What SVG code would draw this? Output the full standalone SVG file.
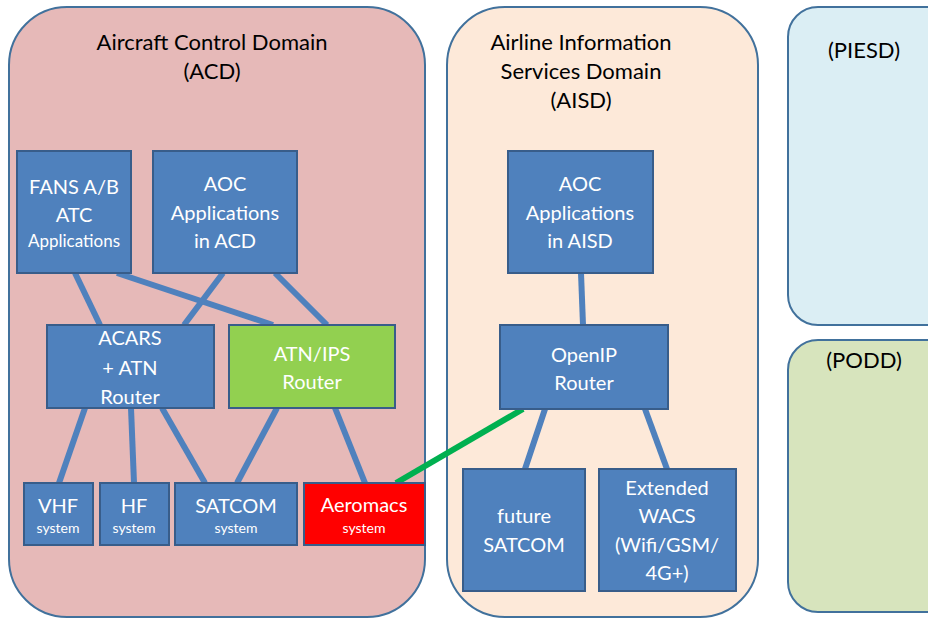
<svg xmlns="http://www.w3.org/2000/svg" width="928" height="619" viewBox="0 0 928 619">
<style>
.dom{stroke:#41719C;stroke-width:2}
.node{fill:#4F81BD;stroke:#385D8A;stroke-width:2}
.t{font-family:Lato,"Liberation Sans",sans-serif;text-anchor:middle}
.title{font-size:22px;fill:#000}
.w{fill:#fff;font-size:20px}
.s{fill:#fff;font-size:17px}
.xs{fill:#fff;font-size:14px}
.c{stroke:#4F81BD;stroke-width:6;fill:none}
.g{stroke:#00B050;stroke-width:6;fill:none}
</style>
<rect width="928" height="619" fill="#fff"/>
<g id="acd">
<rect class="dom" x="9" y="7" width="416" height="610" rx="58" fill="#E6B9B8"/>
<text class="t title" x="212" y="50">Aircraft Control Domain</text>
<text class="t title" x="212" y="79">(ACD)</text>
</g>
<g id="aisd">
<rect class="dom" x="447" y="7" width="311" height="610" rx="58" fill="#FDE9D9"/>
<text class="t title" x="581" y="50">Airline Information</text>
<text class="t title" x="581" y="79">Services Domain</text>
<text class="t title" x="581" y="108">(AISD)</text>
</g>
<g id="piesd">
<rect class="dom" x="788" y="7" width="170" height="318" rx="30" fill="#DBEEF4"/>
<text class="t title" x="864" y="58">(PIESD)</text>
</g>
<g id="podd">
<rect class="dom" x="788" y="340" width="170" height="272" rx="30" fill="#D7E4BD"/>
<text class="t title" x="864" y="368">(PODD)</text>
</g>
<g id="connectors">
<line class="c" x1="75" y1="273" x2="100" y2="325"/>
<line class="c" x1="117" y1="273" x2="273" y2="325"/>
<line class="c" x1="223" y1="273" x2="184" y2="325"/>
<line class="c" x1="275" y1="273" x2="327" y2="325"/>
<line class="c" x1="85" y1="408" x2="59" y2="483"/>
<line class="c" x1="131" y1="408" x2="134" y2="483"/>
<line class="c" x1="162" y1="408" x2="205" y2="483"/>
<line class="c" x1="277" y1="408" x2="237" y2="483"/>
<line class="c" x1="335" y1="408" x2="365" y2="483"/>
<line class="c" x1="581" y1="273" x2="583" y2="325"/>
<line class="c" x1="545" y1="409" x2="525" y2="469"/>
<line class="c" x1="645" y1="409" x2="667" y2="469"/>
<line class="g" x1="396" y1="483" x2="523" y2="409"/>
</g>
<g id="fans">
<rect class="node" x="17" y="151" width="114" height="122"/>
<text class="t w" x="74" y="194">FANS A/B</text>
<text class="t w" x="74" y="222">ATC</text>
<text class="t s" x="74" y="247">Applications</text>
</g>
<g id="aoc-acd">
<rect class="node" x="153" y="151" width="144" height="122"/>
<text class="t w" x="225" y="191">AOC</text>
<text class="t w" x="225" y="220">Applications</text>
<text class="t w" x="225" y="248">in ACD</text>
</g>
<g id="acars">
<rect class="node" x="47" y="325" width="167" height="83"/>
<text class="t w" x="130" y="345">ACARS</text>
<text class="t w" x="130" y="375">+ ATN</text>
<text class="t w" x="130" y="404">Router</text>
</g>
<g id="atnips">
<rect class="node" x="229" y="325" width="166" height="83" style="fill:#92D050"/>
<text class="t w" x="312" y="361">ATN/IPS</text>
<text class="t w" x="312" y="389">Router</text>
</g>
<g id="vhf">
<rect class="node" x="24" y="483" width="69" height="62"/>
<text class="t w" x="58" y="513">VHF</text>
<text class="t xs" x="58" y="533">system</text>
</g>
<g id="hf">
<rect class="node" x="100" y="483" width="69" height="62"/>
<text class="t w" x="134" y="513">HF</text>
<text class="t xs" x="134" y="533">system</text>
</g>
<g id="satcom">
<rect class="node" x="175" y="483" width="122" height="62"/>
<text class="t w" x="236" y="513">SATCOM</text>
<text class="t xs" x="236" y="533">system</text>
</g>
<g id="aeromacs">
<rect class="node" x="304" y="483" width="121" height="62" style="fill:#FF0000"/>
<text class="t w" x="364" y="512">Aeromacs</text>
<text class="t xs" x="364" y="533">system</text>
</g>
<g id="aoc-aisd">
<rect class="node" x="508" y="151" width="145" height="122"/>
<text class="t w" x="580" y="191">AOC</text>
<text class="t w" x="580" y="220">Applications</text>
<text class="t w" x="580" y="248">in AISD</text>
</g>
<g id="openip">
<rect class="node" x="500" y="325" width="168" height="84"/>
<text class="t w" x="584" y="362">OpenIP</text>
<text class="t w" x="584" y="390">Router</text>
</g>
<g id="future-satcom">
<rect class="node" x="463" y="469" width="122" height="122"/>
<text class="t w" x="524" y="523">future</text>
<text class="t w" x="524" y="552">SATCOM</text>
</g>
<g id="wacs">
<rect class="node" x="599" y="469" width="137" height="122"/>
<text class="t w" x="667" y="495">Extended</text>
<text class="t w" x="667" y="523">WACS</text>
<text class="t w" x="667" y="552">(Wifi/GSM/</text>
<text class="t w" x="667" y="580">4G+)</text>
</g>
</svg>
